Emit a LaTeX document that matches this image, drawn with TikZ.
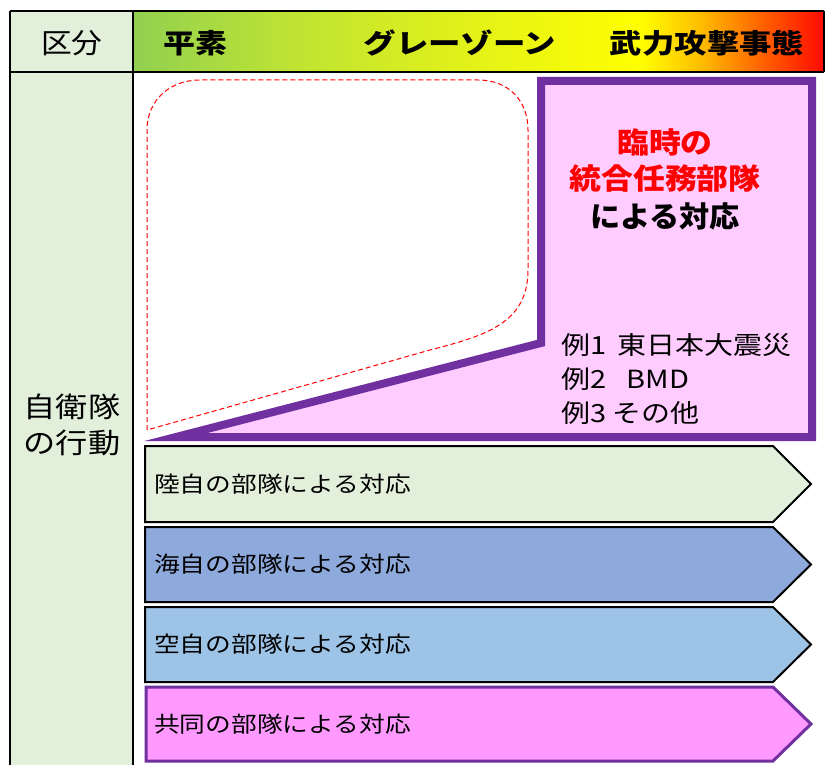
\documentclass[tikz,border=0pt]{standalone}
\usepackage{fontspec}
\usepackage{graphicx}
\newfontfamily\jp{Noto Sans CJK JP}
\definecolor{lgreen}{HTML}{E2EFDA}
\definecolor{purp}{HTML}{7030A0}
\definecolor{pinkfill}{HTML}{FFCCFF}
\definecolor{navy}{HTML}{8EA9DB}
\definecolor{skyb}{HTML}{9DC3E6}
\definecolor{magen}{HTML}{FF99FF}
\definecolor{hgA}{RGB}{146,208,80}
\definecolor{hgB}{RGB}{192,228,50}
\definecolor{hgC}{RGB}{232,244,20}
\definecolor{hgD}{RGB}{255,255,0}
\definecolor{hgE}{RGB}{255,190,0}
\definecolor{hgF}{RGB}{255,100,0}
\definecolor{hgG}{RGB}{255,10,0}
\pgfdeclarehorizontalshading{hdrshade}{100bp}{color(0bp)=(hgA); color(25bp)=(hgA); color(37bp)=(hgB); color(51.6bp)=(hgC); color(61.7bp)=(hgD); color(66bp)=(hgE); color(70.4bp)=(hgF); color(75bp)=(hgG); color(100bp)=(hgG)}
\begin{document}
\begin{tikzpicture}[x=1pt,y=-1pt,
  tbl/.style={draw=black, line width=2pt},
  hdrtext/.style={font=\jp\bfseries\fontsize{27}{32}\selectfont, inner sep=0pt},
  coltext/.style={font=\jp\fontsize{28}{36}\selectfont, inner sep=0pt, align=center},
  jtftext/.style={font=\jp\bfseries\fontsize{29}{37}\selectfont, inner sep=0pt, align=center},
  extext/.style={font=\jp\fontsize{25}{34}\selectfont, inner sep=0pt, anchor=west},
  armtext/.style={font=\jp\fontsize{22}{26}\selectfont, inner sep=0pt, anchor=west},
  armbox/.style={draw=black, line width=2pt, line join=miter},
  jointbox/.style={draw=purp, line width=3pt, line join=miter, fill=magen},
]
\useasboundingbox (0,0) rectangle (825,765);
% backgrounds
\fill[lgreen] (10,11) rectangle (133,765);
\shade[shading=hdrshade] (133,11) rectangle (824,72);
% table lines
\draw[tbl] (10,11) -- (824,11);
\draw[tbl] (10,72) -- (824,72);
\draw[tbl] (10,11) -- (10,765);
\draw[tbl] (133,11) -- (133,765);
\draw[tbl] (824,11) -- (824,72);
% header texts
\node[font=\jp\fontsize{28}{32}\selectfont, inner sep=0pt] (kubun) at (72,43) {\scalebox{1.1}[1]{区分}};
\node[hdrtext] (heiso) at (195,43) {\scalebox{1.18}[1]{平素}};
\node[hdrtext] (gray) at (460,43) {\scalebox{1.2}[1]{グレーゾーン}};
\node[hdrtext] (buryoku) at (707,43) {\scalebox{1.2}[1]{武力攻撃事態}};
\node[coltext] (sdf) at (72,425) {\scalebox{1.15}[1]{自衛隊}\\\scalebox{1.15}[1]{の行動}};
% dashed area
\draw[red, line width=1pt, dash pattern=on 5pt off 3pt]
  (147,430) -- (147,130) .. controls (147,100) and (170,80) .. (200,80)
  -- (478,80) .. controls (508,80) and (528,100) .. (528,130)
  -- (528,270) .. controls (528,324) and (484,336) .. (430,350) -- cycle;
% joint task force shape
\draw[purp, fill=pinkfill, line width=8pt, line join=miter, miter limit=12]
  (541,81) -- (812,81) -- (812,437) -- (176,437) -- (541,343) -- cycle;
\node[jtftext, text=red] (jtf1) at (665,142) {\scalebox{1.1}[1]{臨時の}};
\node[jtftext, text=red] (jtf2) at (665,178) {\scalebox{1.1}[1]{統合任務部隊}};
\node[jtftext] (jtf3) at (665,216) {\scalebox{1.04}[1]{による対応}};
\node[extext] (ex1) at (561,345) {\scalebox{1.16}[1]{例1\hspace{0.4em}東日本大震災}};
\node[extext] (ex2) at (561,379) {\scalebox{1.16}[1]{例2\hspace{0.7em}BMD}};
\node[extext] (ex3) at (561,413) {\scalebox{1.16}[1]{例3 その他}};
% arrows
\path[armbox, fill=lgreen] (145,446) -- (773,446) -- (811,484) -- (773,522) -- (145,522) -- cycle;
\node[armtext] (gsdf) at (154,484) {\scalebox{1.17}[1]{陸自の部隊による対応}};
\path[armbox, fill=navy] (145,527) -- (773,527) -- (811,564.5) -- (773,602) -- (145,602) -- cycle;
\node[armtext] (msdf) at (154,564.5) {\scalebox{1.17}[1]{海自の部隊による対応}};
\path[armbox, fill=skyb] (145,607) -- (773,607) -- (811,644.5) -- (773,682) -- (145,682) -- cycle;
\node[armtext] (asdf) at (154,644.5) {\scalebox{1.17}[1]{空自の部隊による対応}};
\path[jointbox] (146,687) -- (773,687) -- (811,724) -- (773,761) -- (146,761) -- cycle;
\node[armtext] (joint) at (154,724) {\scalebox{1.17}[1]{共同の部隊による対応}};
\end{tikzpicture}
\end{document}
